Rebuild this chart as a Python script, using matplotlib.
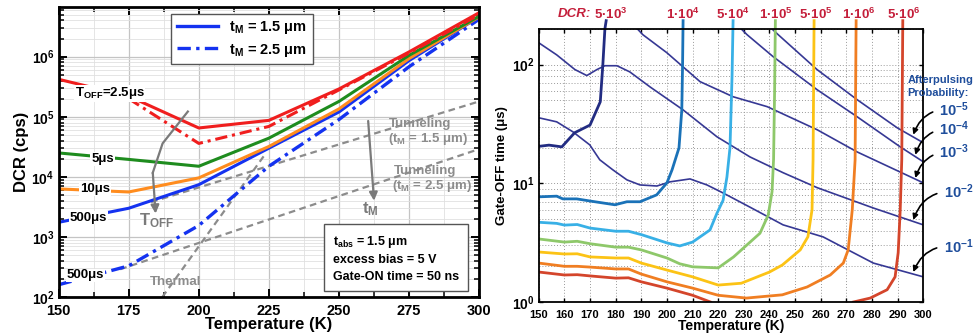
import numpy as np
import matplotlib
matplotlib.use("Agg")
import matplotlib.pyplot as plt
import matplotlib.transforms as mtransforms
from matplotlib.patches import Rectangle
from matplotlib.ticker import LogLocator, LogFormatterMathtext, MultipleLocator, NullFormatter

plt.rcParams['font.family'] = ['Liberation Sans', 'DejaVu Sans']
plt.rcParams['font.weight'] = 'bold'
plt.rcParams['axes.labelweight'] = 'bold'
plt.rcParams['mathtext.fontset'] = 'custom'
plt.rcParams['mathtext.rm'] = 'Liberation Sans:bold'
plt.rcParams['mathtext.it'] = 'Liberation Sans:bold'
plt.rcParams['mathtext.bf'] = 'Liberation Sans:bold'
plt.rcParams['mathtext.default'] = 'bf'

# ---- left panel data: DCR (cps) vs temperature (K)
temp_left = [150, 175, 200, 225, 250, 275, 300]
dcr_toff_2p5_tm15 = [4.2e5, 2.2e5, 6.5e4, 8.7e4, 2.9e5, 1.2e6, 5.4e6]
dcr_toff_2p5_tm25 = [np.nan, 2.0e5, 3.6e4, 6.9e4, 2.8e5, 1.15e6, 5.0e6]
dcr_toff_5_tm15 = [2.5e4, 1.95e4, 1.5e4, 4.4e4, 1.8e5, 1.05e6, 4.7e6]
dcr_toff_10_tm15 = [6.3e3, 5.6e3, 9.6e3, 3.2e4, 1.35e5, 9.3e5, 4.6e6]
dcr_toff_500_tm15 = [1.75e3, 3.0e3, 7.4e3, 3.0e4, 1.2e5, 8.6e5, 4.6e6]
dcr_toff_500_tm25 = [1.6e2, 3.3e2, 1.55e3, 1.5e4, 9.0e4, 6.8e5, 4.2e6]

thermal_t = [187, 224]
thermal_dcr = [1.0e2, 2.5e4]
tunnel15_t = [183, 300]
tunnel15_dcr = [3.8e3, 1.8e5]
tunnel25_t = [172, 300]
tunnel25_dcr = [2.9e2, 2.9e4]

# ---- right panel data: gate-OFF time (us) vs temperature (K)
# afterpulsing probability contours
ap_1e5_t = [241, 243.4, 258.6, 274.2, 289.8, 300]
ap_1e5 = [200, 179, 90.8, 50.7, 29.4, 22.0]
ap_1e4_t = [229, 231.25, 241.4, 258.6, 274.2, 291.0, 300]
ap_1e4 = [200, 179, 117, 61.5, 36.4, 20.3, 15.2]
ap_1e3_t = [188.5, 190.6, 200, 212.9, 225.8, 239.1, 258.6, 274.2, 300]
ap_1e3 = [200, 179, 126, 72, 53.7, 44.3, 28.3, 18.4, 10.1]
ap_1e2_t = [150, 157, 164.1, 168.75, 172.7, 175.8, 180.5, 185.5, 193.4, 206.25,
            219.5, 232.4, 245.3, 258.6, 280.5, 300]
ap_1e2 = [153, 121, 91, 81, 91, 98, 98, 87, 65, 41.7, 24.7, 16.7, 12.3, 9.2, 6.2, 4.47]
ap_1e1_t = [150, 157, 163.3, 169.9, 173.8, 178.9, 184.4, 189.5, 196.1, 201.2, 209,
            215.6, 221.9, 232.4, 245.3, 260.9, 280.5, 300]
ap_1e1 = [35.7, 33.0, 27.2, 21.1, 15.8, 13.0, 10.7, 9.7, 9.5, 10.3, 10.9, 9.7, 8.3,
          6.3, 4.47, 3.54, 2.13, 1.63]

# DCR contours
dcr_5e3_t = [150, 154, 159, 164, 170, 174, 175, 175.8, 176.3]
dcr_5e3 = [20.5, 21, 20.3, 26.7, 31, 48.7, 100, 200, 235]
dcr_1e4_t = [150, 157, 159.4, 164.8, 170, 179.7, 184.4, 189.5, 196, 200, 202, 204.7,
             205.8, 206.1, 206.3]
dcr_1e4 = [7.7, 7.8, 7.4, 7.4, 7.1, 6.6, 7.0, 7.0, 8.0, 10.1, 13, 19.9, 41.6, 100, 235]
dcr_5e4_t = [150, 157, 160, 165, 170, 180, 185, 190, 200, 205, 210, 216.8, 219.5,
             221.9, 223.4, 224.6, 225.4, 225.8]
dcr_5e4 = [4.7, 4.6, 4.45, 4.5, 4.2, 3.95, 3.95, 3.7, 3.15, 2.97, 3.2, 4.05, 5.6,
           7.2, 11.3, 20, 80, 235]
dcr_1e5_t = [150, 160, 165, 170, 180, 185, 190, 200, 205, 210, 220, 226, 236.3,
             239.5, 241, 241.6, 242, 242.3]
dcr_1e5 = [3.4, 3.2, 3.25, 3.1, 2.9, 2.9, 2.75, 2.35, 2.1, 1.98, 1.94, 2.4, 3.8,
           5.4, 8.5, 16, 60, 235]
dcr_5e5_t = [150, 160, 165, 170, 180, 185, 190, 200, 210, 220, 229, 240, 245, 252,
             255, 256.6, 257, 257.2, 257.4]
dcr_5e5 = [2.64, 2.54, 2.55, 2.4, 2.35, 2.35, 2.13, 1.86, 1.63, 1.39, 1.44, 1.79,
           2.05, 2.75, 3.55, 6.0, 15.8, 60, 235]
dcr_1e6_t = [150, 160, 165, 170, 180, 185, 190, 200, 210, 220, 231, 245, 254.7,
             263.7, 268.8, 270.7, 272.3, 273.4, 273.8]
dcr_1e6 = [2.13, 2.0, 2.0, 1.97, 1.9, 1.9, 1.72, 1.48, 1.31, 1.14, 1.08, 1.15, 1.34,
           1.69, 2.13, 2.75, 6.0, 15.8, 235]
dcr_5e6_t = [150, 160, 165, 170, 180, 185, 190, 200, 210, 217, np.nan, 272.7, 279.3,
             285.9, 289, 290.2, 291, 291.6, 292]
dcr_5e6 = [1.79, 1.69, 1.7, 1.66, 1.59, 1.6, 1.48, 1.31, 1.14, 1.0, np.nan, 1.0, 1.08,
           1.27, 1.63, 2.6, 6.0, 15.8, 235]

dcr_labels = ['5·10$^{3}$', '1·10$^{4}$', '5·10$^{4}$', '1·10$^{5}$',
              '5·10$^{5}$', '1·10$^{6}$', '5·10$^{6}$']
dcr_label_t = [178, 206.3, 225.8, 242.6, 258.2, 275, 292.2]
dcr_colors = ['#222c82', '#1a72b8', '#38b0e6', '#8ec86a', '#fcc315', '#f07e22', '#d4452b']
ap_labels = ['10$^{-5}$', '10$^{-4}$', '10$^{-3}$', '10$^{-2}$', '10$^{-1}$']

RED, GREEN, ORANGE, BLUE, GRAY = '#f01e1e', '#1e8c1e', '#ff8c1e', '#1432f0', '#8c8c8c'

fig = plt.figure(figsize=(9.76, 3.33), dpi=100)

# ================= left panel =================
ax1 = fig.add_axes([0.060, 0.108, 0.431, 0.871])
ax1.set_yscale('log')
ax1.set_xlim(150, 300)
ax1.set_ylim(100, 6.7e6)

dd = dict(dashes=[4, 1.6, 1, 1.6])
ax1.plot(tunnel15_t, tunnel15_dcr, color=GRAY, lw=1.6, dashes=[3, 2])
ax1.plot(tunnel25_t, tunnel25_dcr, color=GRAY, lw=1.6, dashes=[3, 2])
ax1.plot(thermal_t, thermal_dcr, color=GRAY, lw=1.6, dashes=[3, 2])
ax1.plot(temp_left, dcr_toff_500_tm25, color=BLUE, lw=2.4, **dd)
ax1.plot(temp_left, dcr_toff_500_tm15, color=BLUE, lw=2.2)
ax1.plot(temp_left, dcr_toff_10_tm15, color=ORANGE, lw=2.2)
ax1.plot(temp_left, dcr_toff_5_tm15, color=GREEN, lw=2.2)
ax1.plot(temp_left, dcr_toff_2p5_tm25, color=RED, lw=2.2, **dd)
ax1.plot(temp_left, dcr_toff_2p5_tm15, color=RED, lw=2.2)

wbox = dict(facecolor='white', edgecolor='none', pad=0.6)
ax1.text(168.2, 2.45e5, 'T$_{OFF}$=2.5μs', fontsize=9.5, ha='center', va='center', bbox=wbox)
ax1.text(165.7, 2.0e4, '5μs', fontsize=9.5, ha='center', va='center', bbox=wbox)
ax1.text(162.9, 6.3e3, '10μs', fontsize=9.5, ha='center', va='center', bbox=wbox)
ax1.text(160.7, 2.1e3, '500μs', fontsize=9.5, ha='center', va='center', bbox=wbox)
ax1.text(159.6, 2.3e2, '500μs', fontsize=9.5, ha='center', va='center', bbox=wbox)

ax1.text(191.8, 1.78e2, 'Thermal', color=GRAY, fontsize=9.5, ha='center', va='center')
ax1.text(279, 7.5e4, 'Tunneling', color=GRAY, fontsize=9.5, ha='center', va='center')
ax1.text(281.8, 4.3e4, '(t$_{M}$ = 1.5 μm)', color=GRAY, fontsize=9.5, ha='center', va='center')
ax1.text(280.7, 1.26e4, 'Tunneling', color=GRAY, fontsize=9.5, ha='center', va='center')
ax1.text(283.2, 7.1e3, '(t$_{M}$ = 2.5 μm)', color=GRAY, fontsize=9.5, ha='center', va='center')

# T_OFF and t_M arrows
ax1.plot([196.1, 187.1, 183.6], [1.22e5, 3.6e4, 1.17e4], color='#7a7a7a', lw=1.6)
ax1.annotate('', xy=(184.6, 2.45e3), xytext=(183.6, 1.17e4),
             arrowprops=dict(arrowstyle='-|>', color='#7a7a7a', lw=1.6,
                             mutation_scale=12, shrinkA=0, shrinkB=0))
ax1.text(185, 1.9e3, '$T_{OFF}$', color='#7a7a7a', fontsize=12, ha='center', va='center')
ax1.annotate('', xy=(262.5, 4.0e3), xytext=(260.4, 8.5e4),
             arrowprops=dict(arrowstyle='-|>', color='#7a7a7a', lw=1.6,
                             mutation_scale=12, shrinkA=0, shrinkB=0))
ax1.text(261.2, 2.9e3, '$t_{M}$', color='#7a7a7a', fontsize=12, ha='center', va='center')

h1, = ax1.plot([], [], color=BLUE, lw=2.4, label='$t_M$ = 1.5 μm')
h2, = ax1.plot([], [], color=BLUE, lw=2.4, label='$t_M$ = 2.5 μm', **dd)
ax1.legend(handles=[h1, h2], loc='upper left', bbox_to_anchor=(0.267, 0.977),
           borderaxespad=0, fancybox=False, edgecolor='#555555', fontsize=10.5,
           handlelength=2.8, borderpad=0.4, labelspacing=0.35, framealpha=1)

ax1.text(0.652, 0.133, 't$_{abs}$ = 1.5 μm\nexcess bias = 5 V\nGate-ON time = 50 ns',
         transform=ax1.transAxes, fontsize=9, ha='left', va='center', linespacing=1.45,
         bbox=dict(boxstyle='square,pad=0.7', facecolor='white', edgecolor='#555555'))

ax1.xaxis.set_major_locator(MultipleLocator(25))
ax1.xaxis.set_minor_locator(MultipleLocator(12.5))
ax1.yaxis.set_major_locator(LogLocator(base=10))
ax1.yaxis.set_minor_locator(LogLocator(base=10, subs=np.arange(2, 10)))
ax1.yaxis.set_major_formatter(LogFormatterMathtext())
ax1.yaxis.set_minor_formatter(NullFormatter())
ax1.grid(which='major', color='#c4c4c4', lw=0.9)
ax1.grid(which='minor', color='#e0e0e0', lw=0.6)
ax1.set_axisbelow(True)
ax1.tick_params(which='both', direction='in', top=True, right=True)
ax1.tick_params(which='major', length=6, width=1.4)
ax1.tick_params(which='minor', length=3.5, width=1.1)
ax1.tick_params(axis='x', pad=5, labelsize=10.5)
ax1.tick_params(axis='y', pad=3, labelsize=10)
for s in ax1.spines.values():
    s.set_linewidth(2)
ax1.set_xlabel('Temperature (K)', fontsize=12, labelpad=-1)
ax1.set_ylabel('DCR (cps)', fontsize=12, labelpad=2)

# ================= right panel =================
ax2 = fig.add_axes([0.552, 0.093, 0.394, 0.820])
ax2.set_yscale('log')
ax2.set_xlim(150, 300)
ax2.set_ylim(1, 200)

AP = '#363894'
for tt, vv in [(ap_1e5_t, ap_1e5), (ap_1e4_t, ap_1e4), (ap_1e3_t, ap_1e3),
               (ap_1e2_t, ap_1e2), (ap_1e1_t, ap_1e1)]:
    ax2.plot(tt, vv, color=AP, lw=1.2)

clip = Rectangle((0, 0), 1, 1.05, transform=ax2.transAxes)
dcr_series = [(dcr_5e3_t, dcr_5e3), (dcr_1e4_t, dcr_1e4), (dcr_5e4_t, dcr_5e4),
              (dcr_1e5_t, dcr_1e5), (dcr_5e5_t, dcr_5e5), (dcr_1e6_t, dcr_1e6),
              (dcr_5e6_t, dcr_5e6)]
for (tt, vv), c in zip(dcr_series, dcr_colors):
    ln, = ax2.plot(tt, vv, color=c, lw=2.0)
    ln.set_clip_path(clip)

trans = mtransforms.blended_transform_factory(ax2.transData, ax2.transAxes)
DCRC = '#c41e3a'
ax2.text(164, 1.055, 'DCR:', transform=trans, color=DCRC, fontsize=9.5,
         fontstyle='italic', ha='center', va='center')
for lab, tx in zip(dcr_labels, dcr_label_t):
    ax2.text(tx, 1.055, lab, transform=trans, color=DCRC, fontsize=9.5,
             ha='center', va='center')

APC = '#1f4e9c'
ax2.text(293.8, 74.7, 'Afterpulsing', color=APC, fontsize=8, ha='left', va='center')
ax2.text(293.8, 58, 'Probability:', color=APC, fontsize=8, ha='left', va='center')
ap_tips = [(296.1, 25.7), (296.9, 17.4), (296.9, 11.1), (296.1, 4.92), (296.1, 1.79)]
ap_text = [(312.1, 41.7), (312.1, 28.8), (312.1, 18.4), (313.7, 8.5), (313.7, 2.91)]
for lab, tip, tx in zip(ap_labels, ap_tips, ap_text):
    ax2.annotate(lab, xy=tip, xytext=tx, color=APC, fontsize=10.5, ha='center',
                 va='center', annotation_clip=False,
                 arrowprops=dict(arrowstyle='-|>', color='black', lw=1.2,
                                 connectionstyle='arc3,rad=0.4', mutation_scale=8,
                                 shrinkA=3, shrinkB=0))

ax2.xaxis.set_major_locator(MultipleLocator(10))
ax2.yaxis.set_major_locator(LogLocator(base=10))
ax2.yaxis.set_minor_locator(LogLocator(base=10, subs=np.arange(2, 10)))
ax2.yaxis.set_major_formatter(LogFormatterMathtext())
ax2.yaxis.set_minor_formatter(NullFormatter())
ax2.grid(which='both', color='#9a9a9a', lw=0.7, ls=(0, (1, 2)))
ax2.set_axisbelow(True)
ax2.tick_params(which='both', direction='in', top=True, right=True, length=3, width=1)
ax2.tick_params(which='minor', length=0)
ax2.tick_params(axis='x', labelsize=8, pad=6)
ax2.tick_params(axis='y', labelsize=10, pad=3)
for s in ax2.spines.values():
    s.set_linewidth(1.3)
ax2.set_xlabel('Temperature (K)', fontsize=10, labelpad=-1)
ax2.set_ylabel('Gate-OFF time (μs)', fontsize=9.5, labelpad=3)

fig.savefig('out.png', dpi=100)
